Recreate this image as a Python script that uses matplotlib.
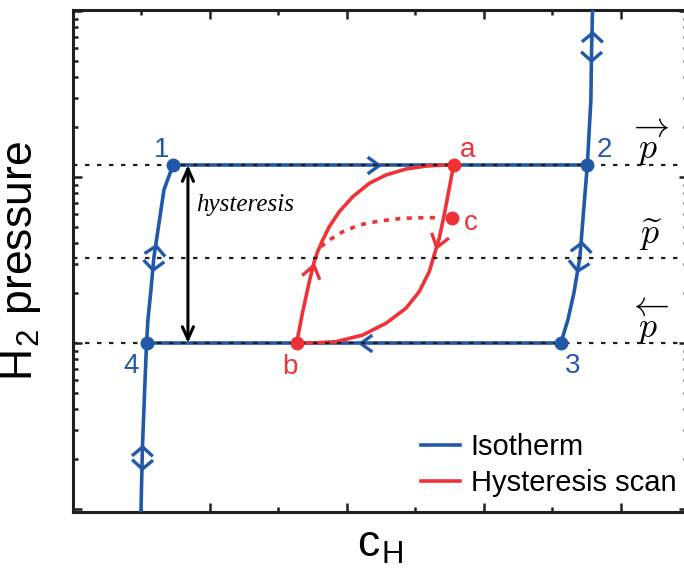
import numpy as np
import matplotlib.pyplot as plt
from matplotlib.lines import Line2D
from matplotlib.markers import MarkerStyle
from matplotlib.path import Path
from matplotlib.transforms import Affine2D
from matplotlib.ticker import MultipleLocator, LogLocator, NullFormatter

plt.rcParams['font.family'] = 'Liberation Sans'
plt.rcParams['mathtext.fontset'] = 'cm'

blue = '#2159a8'
red = '#ee3237'
ink = '#231f20'

# isotherm branches: hydrogen content c_H vs. pressure
iso_left_c = [0.496, 0.507, 0.526, 0.537, 0.547, 0.569, 0.591, 0.628, 0.664, 0.730]
iso_left_p = [0.96, 2.36, 5.98, 10.0, 13.8, 20.9, 33.0, 52.8, 83.6, 118.0]
iso_right_c = [3.562, 3.613, 3.657, 3.701, 3.730, 3.755, 3.781, 3.786, 3.793, 3.803]
iso_right_p = [10.0, 13.8, 20.0, 33.0, 65.9, 118.0, 291.0, 582.0, 1014.0, 1340.0]

# plateau pressures: absorption, equilibrium, desorption
p_abs = 118.0
p_mid = 32.5
p_des = 10.0

# scan loop: b -> a (absorbing) and a -> b (desorbing)
scan_up_c = [1.633, 1.677, 1.725, 1.761, 1.786, 1.823, 1.871, 1.944, 2.042, 2.163,
             2.285, 2.431, 2.577, 2.699, 2.779]
scan_up_p = [10.0, 15.44, 23.4, 30.9, 35.5, 41.7, 50.2, 61.8, 76.0, 91.6,
             102.8, 111.7, 116.4, 118.0, 118.0]
scan_down_c = [2.779, 2.747, 2.710, 2.674, 2.637, 2.601, 2.528, 2.431, 2.285, 2.115,
               1.920, 1.750, 1.633]
scan_down_p = [118.0, 85.5, 59.0, 42.8, 33.9, 26.9, 20.4, 16.2, 13.15, 11.17,
               10.18, 10.0, 10.0]
# partial scan towards c
scan_c_c = [1.810, 1.871, 1.969, 2.090, 2.236, 2.407, 2.577, 2.674]
scan_c_p = [38.0, 41.7, 46.8, 51.4, 54.3, 56.4, 56.9, 56.9]

point_names = ['1', '2', '3', '4']
point_c = [0.730, 3.755, 3.562, 0.537]
point_p = [118.0, 118.0, 10.0, 10.0]
point_label_c = [0.650, 3.876, 3.650, 0.423]
point_label_p = [145.0, 145.0, 7.27, 7.27]

scan_names = ['a', 'b', 'c']
scan_pt_c = [2.779, 1.633, 2.764]
scan_pt_p = [118.0, 10.0, 56.4]
scan_label_c = [2.883, 1.584, 2.905]
scan_label_p = [145.0, 7.16, 52.8]

fig = plt.figure(figsize=(6.84, 5.73), dpi=100)
ax = fig.add_axes([73 / 684, 61 / 573, 615 / 684, 502 / 573])
ax.set_yscale('log')
ax.set_xlim(0, 4.49)
ax.set_ylim(10 ** -0.018, 10 ** 3.006)


def on_curve(cs, ps, p):
    cs = np.asarray(cs)
    ps = np.asarray(ps)
    order = np.argsort(ps)
    return np.interp(np.log10(p), np.log10(ps[order]), cs[order])


# open chevron shapes pointing up; rotated to the travel direction
single = Path([(-1, -0.7), (0, 0.7), (1, -0.7)])
double = Path([(-1, -0.44), (0, 0.44), (1, -0.44)])


def chevron(c, p, dc, dp, color, shape=single, size=12):
    # direction in display space from (c, p) towards (c + dc, p * dp)
    x0, y0 = ax.transData.transform((c, p))
    x1, y1 = ax.transData.transform((c + dc, p * dp))
    ang = np.degrees(np.arctan2(y1 - y0, x1 - x0)) - 90
    m = MarkerStyle(shape, transform=Affine2D().rotate_deg(ang))
    ax.plot([c], [p], ls='none', marker=m, ms=size, mfc='none', mec=color,
            mew=2.4, zorder=4)


def chevron_on(cs, ps, p, up, color, shape=single, size=12):
    c = on_curve(cs, ps, p)
    step = 1.03 if up else 1 / 1.03
    chevron(c, p, on_curve(cs, ps, p * step) - c, step, color, shape, size)


# isotherm
ax.plot(iso_left_c, iso_left_p, color=blue, lw=2.6, zorder=3)
ax.plot(iso_right_c, iso_right_p, color=blue, lw=2.6, zorder=3)
ax.plot([point_c[0], point_c[1]], [p_abs, p_abs], color=blue, lw=2.6, zorder=3)
ax.plot([point_c[3], point_c[2]], [p_des, p_des], color=blue, lw=2.6, zorder=3)

# hysteresis scan
ax.plot(scan_up_c, scan_up_p, color=red, lw=2.6, zorder=3)
ax.plot(scan_down_c, scan_down_p, color=red, lw=2.6, zorder=3)
ax.plot(scan_c_c, scan_c_p, color=red, lw=2.6, ls=(0, (1.4, 1.8)), zorder=3)

# dotted plateau levels
for lev in [p_abs, p_mid, p_des]:
    ax.axhline(lev, color=ink, lw=1.6, ls=(0, (2, 3.4)), zorder=5)

ax.plot(point_c, point_p, 'o', color=blue, ms=9, zorder=6)
ax.plot(scan_pt_c, scan_pt_p, 'o', color=red, ms=9, zorder=6)
for name, c, p in zip(point_names, point_label_c, point_label_p):
    ax.text(c, p, name, color=blue, fontsize=20, ha='center', va='center')
for name, c, p in zip(scan_names, scan_label_c, scan_label_p):
    ax.text(c, p, name, color=red, fontsize=20, ha='center', va='center')

# direction marks along the isotherm
chevron(2.188, p_abs, 0.05, 1, blue)
chevron(2.139, p_des, -0.05, 1, blue)
for cs, ps, up, down in [(iso_left_c, iso_left_p, 36.3, 29.5),
                         (iso_left_c, iso_left_p, 2.24, 1.87),
                         (iso_right_c, iso_right_p, 37.8, 29.1),
                         (iso_right_c, iso_right_p, 697.0, 535.0)]:
    chevron_on(cs, ps, up, True, blue, double, 15)
    chevron_on(cs, ps, down, False, blue, double, 15)

# direction marks along the scan
chevron_on(scan_up_c, scan_up_p, 27.2, True, red, single, 13)
chevron_on(scan_down_c, scan_down_p, 41.1, False, red, single, 13)

# hysteresis span
ax.annotate('', xy=(0.839, p_abs), xytext=(0.839, p_des),
            arrowprops=dict(arrowstyle='<->,head_length=0.9,head_width=0.4',
                            color='black', lw=2.2, shrinkA=0, shrinkB=0,
                            mutation_scale=10))
ax.text(0.898, 67.8, 'hysteresis', family='Liberation Serif', style='italic',
        fontsize=18, ha='left', va='center')

ax.text(4.219, 160, r'$\overrightarrow{p}$', fontsize=26, ha='center', va='center')
ax.text(4.219, 44.8, r'$\widetilde{p}$', fontsize=26, ha='center', va='center')
ax.text(4.219, 13.4, r'$\overleftarrow{p}$', fontsize=26, ha='center', va='center')

ax.set_xlabel(r'c$_\mathregular{H}$', fontsize=32, labelpad=6)
ax.set_ylabel(r'H$_\mathregular{2}$ pressure', fontsize=32, labelpad=18)

ax.xaxis.set_major_locator(MultipleLocator(1))
ax.xaxis.set_minor_locator(MultipleLocator(0.5))
ax.yaxis.set_major_locator(LogLocator(base=10))
ax.yaxis.set_minor_locator(LogLocator(base=10, subs=np.arange(2, 10)))
ax.xaxis.set_major_formatter(NullFormatter())
ax.xaxis.set_minor_formatter(NullFormatter())
ax.yaxis.set_major_formatter(NullFormatter())
ax.yaxis.set_minor_formatter(NullFormatter())
ax.tick_params(which='both', direction='in', top=True, right=True, color=ink, width=1.8)
ax.tick_params(which='major', length=6.5)
ax.tick_params(which='minor', length=3.6)
for sp in ax.spines.values():
    sp.set_linewidth(2.2)
    sp.set_color(ink)

handles = [Line2D([], [], color=blue, lw=2.6), Line2D([], [], color=red, lw=2.6)]
ax.legend(handles, ['Isotherm', 'Hysteresis scan'], loc='upper left',
          bbox_to_anchor=((421 - 73) / 615, (512 - 433) / 502), frameon=False,
          fontsize=21, handlelength=1.35, handletextpad=0.35, labelspacing=0.27,
          borderpad=0, borderaxespad=0)

fig.savefig('out.png', dpi=100)
